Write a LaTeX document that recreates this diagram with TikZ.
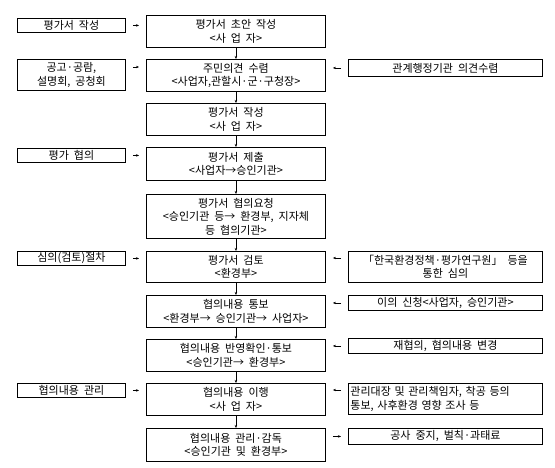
\documentclass[tikz,border=0pt]{standalone}
\usepackage{fontspec}
\setmainfont{Noto Sans CJK KR}[WordSpace=2]
\usetikzlibrary{arrows.meta,calc}

\begin{document}
\begin{tikzpicture}[x=1pt,y=-1pt,
  box/.style={draw,line width=0.9pt,anchor=north west,inner sep=1pt,align=center,font=\fontsize{11}{13.5}\selectfont},
  lbox/.style={box,minimum width=108pt,minimum height=14pt},
  cbox/.style={box,minimum width=179pt,minimum height=32pt},
  rbox/.style={box,minimum width=194pt,minimum height=15pt},
  darr/.style={line width=0.4pt,-{Stealth[length=3pt,width=2.4pt]}},
  sarr/.style={darr,shorten <=7pt,shorten >=7pt}]
\useasboundingbox (0,0) rectangle (555,468);
\node[cbox] (c1) at (146,15) {평가서 초안 작성\\<사 업 자>};
\node[cbox] (c2) at (146,59) {주민의견 수렴\\<사업자,관할시·군·구청장>};
\node[cbox] (c3) at (146,103) {평가서 작성\\<사 업 자>};
\node[cbox,minimum height=33pt] (c4) at (146,147) {평가서 제출\\<사업자→승인기관>};
\node[cbox,minimum height=44pt] (c5) at (146,194) {평가서 협의요청\\<승인기관 등→ 환경부, 지자체\\등 협의기관>};
\node[cbox,minimum height=31pt] (c6) at (146,251) {평가서 검토\\<환경부>};
\node[cbox] (c7) at (146,295) {협의내용 통보\\<환경부→ 승인기관→ 사업자>};
\node[cbox] (c8) at (146,339) {협의내용 반영확인·통보\\<승인기관→ 환경부>};
\node[cbox] (c9) at (146,383) {협의내용 이행\\<사 업 자>};
\node[cbox,minimum height=33pt] (c10) at (146,428) {협의내용 관리·감독\\<승인기관 및 환경부>};
\node[lbox] (l1) at (17,18) {평가서 작성};
\node[lbox,minimum height=31pt] (l2) at (17,59) {공고·공람,\\설명회, 공청회};
\node[lbox] (l3) at (17,148) {평가 협의};
\node[lbox] (l4) at (17,251) {심의(검토)절차};
\node[lbox] (l5) at (17,383) {협의내용 관리};
\node[rbox,minimum height=17pt] (r1) at (348,59) {관계행정기관 의견수렴};
\node[rbox,minimum height=31pt] (r2) at (348,251) {「한국환경정책·평가연구원」 등을\\통한 심의};
\node[rbox] (r3) at (348,295) {이의 신청<사업자, 승인기관>};
\node[rbox] (r4) at (348,338) {재협의, 협의내용 변경};
\node[rbox,minimum height=31pt,text width=190pt,inner sep=2pt,align=left] (r5) at (348,383) {\makebox[188pt][s]{관리대장 및 관리책임자, 착공 등의}\\통보, 사후환경 영향 조사 등};
\node[rbox,minimum height=16pt] (r6) at (348,428) {공사 중지, 벌칙·과태료};
\foreach \a/\b in {c1/c2,c2/c3,c3/c4,c4/c5,c5/c6,c6/c7,c7/c8,c8/c9,c9/c10}
  \draw[darr] (\a.south) -- (\b.north);
\draw[sarr] (l1.east) -- (l1.east -| c1.west);
\draw[sarr] ($(l2.north east)+(0,8)$) -- ($(c2.north west)+(0,8)$);
\draw[sarr] (l3.east) -- (l3.east -| c4.west);
\draw[sarr] (l4.east) -- (l4.east -| c6.west);
\draw[sarr] (l5.east) -- (l5.east -| c9.west);
\draw[sarr] (r1.west) -- (r1.west -| c2.east);
\draw[sarr] ($(r2.north west)+(0,7)$) -- ($(c6.north east)+(0,7)$);
\draw[sarr] (r3.west) -- (r3.west -| c7.east);
\draw[sarr] (r4.west) -- (r4.west -| c8.east);
\draw[sarr] ($(r5.north west)+(0,7)$) -- ($(c9.north east)+(0,7)$);
\draw[sarr] (c10.east |- r6.west) -- (r6.west);
\end{tikzpicture}
\end{document}
